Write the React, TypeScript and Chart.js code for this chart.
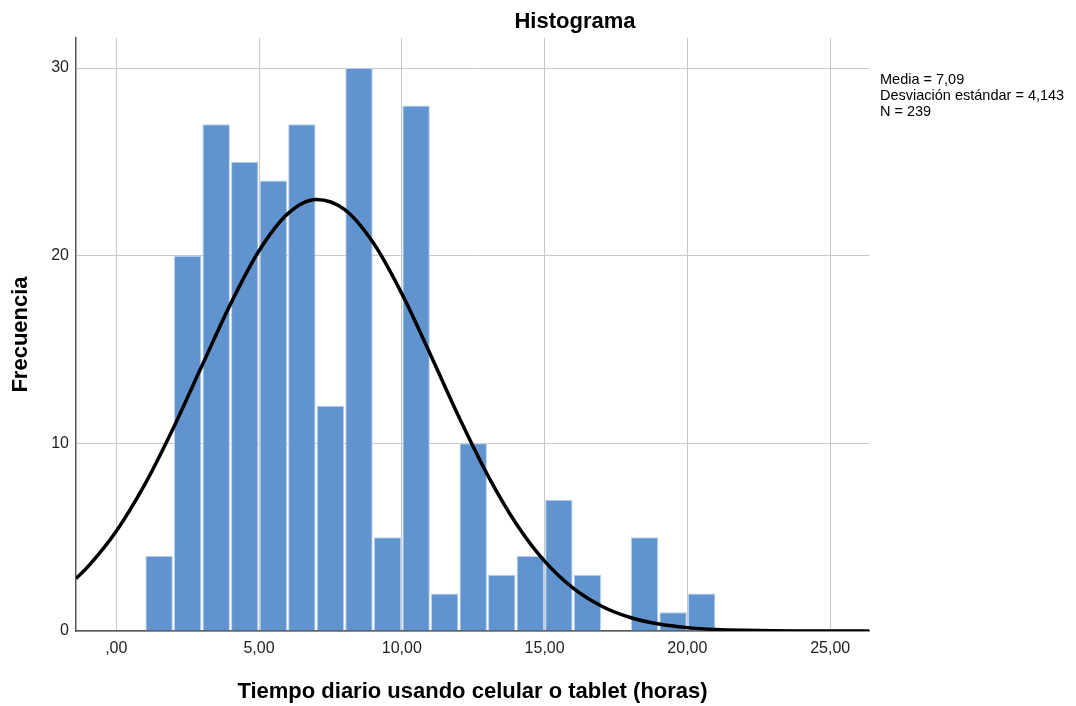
import React, { useEffect, useRef } from "react";
import { Chart, registerables } from "chart.js";

Chart.register(...registerables);

// ---- Data ----
const BIN_CENTERS = [1.5, 2.5, 3.5, 4.5, 5.5, 6.5, 7.5, 8.5, 9.5, 10.5, 11.5, 12.5, 13.5, 14.5, 15.5, 16.5, 17.5, 18.5, 19.5, 20.5];
const FREQUENCIES = [4, 20, 27, 25, 24, 27, 12, 30, 5, 28, 2, 10, 3, 4, 7, 3, 0, 5, 1, 2];

// Normal curve points (Media = 7,09; DE = 4,143; N = 239)
const CURVE_X = [-1.41, -1, 0, 1, 2, 3, 4, 5, 6, 7, 8, 9, 10, 11, 12, 13, 14, 15, 16, 17, 18, 19, 20, 21, 22, 23, 24, 25, 26.36];
const CURVE_Y = [2.8, 3.42, 5.32, 7.81, 10.82, 14.13, 17.42, 20.26, 22.23, 23.0, 22.46, 20.69, 17.98, 14.74, 11.4, 8.32, 5.73, 3.72, 2.28, 1.32, 0.72, 0.37, 0.18, 0.08, 0.035, 0.014, 0.005, 0.002, 0.0007];

const X_TICKS = [0, 5, 10, 15, 20, 25];
const X_TICK_LABELS = [",00", "5,00", "10,00", "15,00", "20,00", "25,00"];
const Y_TICKS = [0, 10, 20, 30];
const Y_TICK_LABELS = ["0", "10", "20", "30"];

const X_MIN = -1.41;
const X_MAX = 26.36;
const Y_MIN = 0;
const Y_MAX = 31.6;

const TITLE = "Histograma";
const X_TITLE = "Tiempo diario usando celular o tablet (horas)";
const Y_TITLE = "Frecuencia";
const STATS = ["Media = 7,09", "Desviación estándar = 4,143", "N = 239"];

const FONT = "'Liberation Sans', Arial, Helvetica, sans-serif";

const textPlugin = {
  id: "extraText",
  afterDraw(chart: any) {
    const ctx = chart.ctx as CanvasRenderingContext2D;
    ctx.save();
    ctx.fillStyle = "#000";
    ctx.textBaseline = "alphabetic";
    ctx.font = `bold 22px ${FONT}`;
    ctx.textAlign = "center";
    ctx.fillText(TITLE, 575, 28);
    ctx.font = `14.5px ${FONT}`;
    ctx.textAlign = "left";
    STATS.forEach((s, i) => ctx.fillText(s, 880, 84 + i * 16));
    ctx.restore();
  },
};

export default function App() {
  const canvasRef = useRef<HTMLCanvasElement | null>(null);

  useEffect(() => {
    if (!canvasRef.current) return;
    Chart.defaults.font.family = FONT;
    const chart = new Chart(canvasRef.current, {
      type: "bar",
      data: {
        datasets: [
          {
            type: "line",
            data: CURVE_X.map((x, i) => ({ x, y: CURVE_Y[i] })),
            borderColor: "#000000",
            borderWidth: 3.5,
            pointRadius: 0,
            fill: false,
            cubicInterpolationMode: "monotone",
            order: 0,
          } as any,
          {
            type: "bar",
            data: BIN_CENTERS.map((x, i) => ({ x, y: FREQUENCIES[i] })),
            backgroundColor: "#6194cf",
            borderColor: "#b9d1ee",
            borderWidth: { left: 1, right: 1, top: 1, bottom: 0 },
            borderSkipped: false,
            barPercentage: 0.96,
            categoryPercentage: 1,
            order: 1,
          } as any,
        ],
      },
      options: {
        animation: false,
        responsive: false,
        maintainAspectRatio: false,
        layout: { padding: { top: 38, right: 207, left: 0, bottom: 0 } },
        plugins: {
          legend: { display: false },
          tooltip: { enabled: false },
          title: { display: false },
        },
        scales: {
          x: {
            type: "linear",
            min: X_MIN,
            max: X_MAX,
            offset: false,
            grid: { color: "#c8c8c8", lineWidth: 1, drawTicks: false, offset: false },
            border: { display: true, color: "#555555", width: 1.5 },
            afterBuildTicks: (s: any) => {
              s.ticks = X_TICKS.map((v) => ({ value: v }));
            },
            afterFit: (s: any) => {
              s.height = 75;
            },
            ticks: {
              padding: 8,
              color: "#222222",
              font: { size: 16, family: FONT },
              maxRotation: 0,
              autoSkip: false,
              callback: (v: any) => {
                const i = X_TICKS.indexOf(Number(v));
                return i >= 0 ? X_TICK_LABELS[i] : "";
              },
            },
            title: {
              display: true,
              text: X_TITLE,
              color: "#000000",
              font: { size: 22, weight: "bold", family: FONT },
              padding: { top: 0, bottom: 1 },
            },
          } as any,
          y: {
            type: "linear",
            min: Y_MIN,
            max: Y_MAX,
            grid: { color: "#c8c8c8", lineWidth: 1, drawTicks: false },
            border: { display: true, color: "#555555", width: 1.5 },
            afterBuildTicks: (s: any) => {
              s.ticks = Y_TICKS.map((v) => ({ value: v }));
            },
            afterFit: (s: any) => {
              s.width = 76;
            },
            ticks: {
              padding: 7,
              color: "#222222",
              font: { size: 16, family: FONT },
              autoSkip: false,
              callback: (v: any) => {
                const i = Y_TICKS.indexOf(Number(v));
                return i >= 0 ? Y_TICK_LABELS[i] : "";
              },
            },
            title: {
              display: true,
              text: Y_TITLE,
              color: "#000000",
              font: { size: 22, weight: "bold", family: FONT },
              padding: { top: 8, bottom: 0 },
            },
          } as any,
        },
      },
      plugins: [textPlugin],
    });
    return () => chart.destroy();
  }, []);

  return (
    <div style={{ position: "absolute", left: 0, top: 0, width: 1076, height: 706, background: "#fff" }}>
      <canvas ref={canvasRef} width={1076} height={706} style={{ display: "block" }} />
    </div>
  );
}
